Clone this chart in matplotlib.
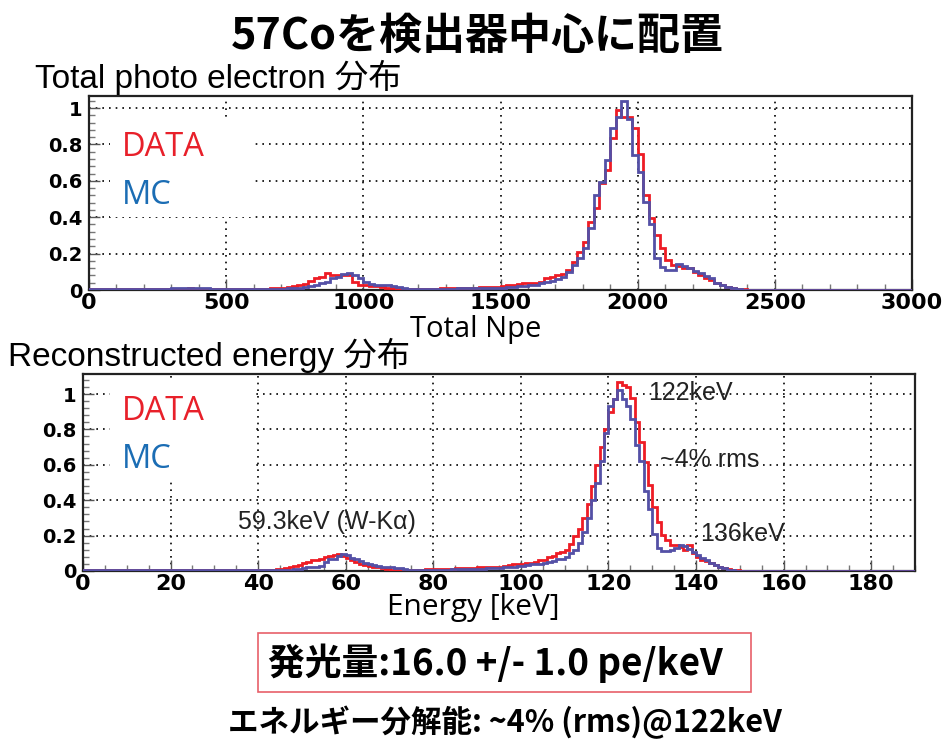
import matplotlib
matplotlib.use("Agg")
import matplotlib.pyplot as plt
import numpy as np
from matplotlib import font_manager
from matplotlib.patches import Rectangle
from matplotlib.ticker import MultipleLocator

# ---------------- data ----------------
npe_bin_width = 20
npe_range = (0, 3000)
npe_data = [
    0.004, 0.004, 0.005, 0.004, 0.005, 0.005, 0.004, 0.005, 0.005, 0.006,
    0.006, 0.005, 0.006, 0.007, 0.008, 0.008, 0.007, 0.008, 0.009, 0.008,
    0.007, 0.006, 0.006, 0.005, 0.005, 0.005, 0.004, 0.005, 0.005, 0.006,
    0.006, 0.007, 0.008, 0.009, 0.010, 0.012, 0.015, 0.020, 0.027, 0.035,
    0.050, 0.066, 0.070, 0.093, 0.085, 0.083, 0.083, 0.080, 0.045, 0.030,
    0.027, 0.022, 0.020, 0.015, 0.012, 0.010, 0.008, 0.007, 0.006, 0.006,
    0.006, 0.007, 0.008, 0.008, 0.009, 0.010, 0.010, 0.012, 0.012, 0.013,
    0.013, 0.015, 0.015, 0.016, 0.018, 0.020, 0.025, 0.030, 0.035, 0.037,
    0.037, 0.040, 0.045, 0.064, 0.073, 0.082, 0.090, 0.110, 0.155, 0.210,
    0.265, 0.375, 0.450, 0.587, 0.660, 0.835, 0.990, 0.950, 0.950, 0.890,
    0.750, 0.520, 0.395, 0.300, 0.230, 0.165, 0.137, 0.130, 0.120, 0.120,
    0.100, 0.085, 0.065, 0.055, 0.040, 0.027, 0.015, 0.010, 0.005, 0.003,
    0, 0, 0, 0, 0, 0, 0, 0, 0, 0,
    0, 0, 0, 0, 0, 0, 0, 0, 0, 0,
    0, 0, 0, 0, 0, 0, 0, 0, 0, 0,
]
npe_mc = [
    0.003, 0.003, 0.004, 0.004, 0.004, 0.005, 0.005, 0.004, 0.005, 0.005,
    0.005, 0.006, 0.006, 0.007, 0.008, 0.009, 0.010, 0.010, 0.011, 0.010,
    0.010, 0.009, 0.008, 0.006, 0.005, 0.005, 0.004, 0.004, 0.005, 0.005,
    0.005, 0.005, 0.006, 0.006, 0.007, 0.008, 0.010, 0.010, 0.012, 0.016,
    0.020, 0.030, 0.040, 0.045, 0.066, 0.070, 0.088, 0.093, 0.080, 0.066,
    0.044, 0.035, 0.030, 0.030, 0.025, 0.020, 0.015, 0.010, 0.008, 0.006,
    0.005, 0.005, 0.006, 0.006, 0.007, 0.007, 0.008, 0.009, 0.009, 0.010,
    0.010, 0.011, 0.012, 0.012, 0.013, 0.013, 0.015, 0.017, 0.020, 0.022,
    0.025, 0.030, 0.037, 0.045, 0.050, 0.060, 0.073, 0.100, 0.137, 0.175,
    0.230, 0.340, 0.520, 0.595, 0.714, 0.890, 0.950, 1.040, 0.940, 0.740,
    0.650, 0.485, 0.360, 0.175, 0.128, 0.110, 0.110, 0.145, 0.130, 0.120,
    0.105, 0.092, 0.075, 0.064, 0.040, 0.027, 0.015, 0.010, 0.005, 0.002,
    0, 0, 0, 0, 0, 0, 0, 0, 0, 0,
    0, 0, 0, 0, 0, 0, 0, 0, 0, 0,
    0, 0, 0, 0, 0, 0, 0, 0, 0, 0,
]

e_bin_width = 1
e_range = (0, 190)
e_data = [
    0.004, 0.004, 0.005, 0.004, 0.004, 0.005, 0.004, 0.004, 0.005, 0.004,
    0.004, 0.005, 0.004, 0.005, 0.005, 0.004, 0.005, 0.005, 0.004, 0.005,
    0.006, 0.007, 0.008, 0.006, 0.005, 0.005, 0.004, 0.005, 0.005, 0.004,
    0.005, 0.004, 0.005, 0.004, 0.005, 0.004, 0.005, 0.004, 0.004, 0.005,
    0.005, 0.006, 0.006, 0.008, 0.010, 0.012, 0.015, 0.020, 0.030, 0.036,
    0.045, 0.050, 0.060, 0.062, 0.065, 0.080, 0.085, 0.090, 0.098, 0.085,
    0.075, 0.060, 0.050, 0.040, 0.035, 0.028, 0.025, 0.020, 0.015, 0.012,
    0.008, 0.006, 0.006, 0.007, 0.006, 0.007, 0.008, 0.008, 0.009, 0.010,
    0.010, 0.011, 0.012, 0.013, 0.014, 0.015, 0.016, 0.017, 0.018, 0.019,
    0.020, 0.020, 0.022, 0.022, 0.025, 0.025, 0.030, 0.035, 0.037, 0.037,
    0.040, 0.045, 0.046, 0.050, 0.060, 0.062, 0.080, 0.085, 0.100, 0.110,
    0.116, 0.155, 0.200, 0.240, 0.300, 0.380, 0.480, 0.600, 0.700, 0.800,
    0.900, 0.970, 1.066, 1.050, 1.040, 0.976, 0.844, 0.730, 0.618, 0.486,
    0.363, 0.279, 0.203, 0.175, 0.147, 0.147, 0.137, 0.119, 0.147, 0.100,
    0.081, 0.062, 0.055, 0.043, 0.035, 0.025, 0.018, 0.010, 0.006, 0.003,
    0, 0, 0, 0, 0, 0, 0, 0, 0, 0,
    0, 0, 0, 0, 0, 0, 0, 0, 0, 0,
    0, 0, 0, 0, 0, 0, 0, 0, 0, 0,
    0, 0, 0, 0, 0, 0, 0, 0, 0, 0,
]
e_mc = [
    0.003, 0.003, 0.004, 0.003, 0.004, 0.004, 0.003, 0.004, 0.004, 0.004,
    0.004, 0.004, 0.004, 0.005, 0.004, 0.005, 0.005, 0.004, 0.005, 0.005,
    0.005, 0.006, 0.006, 0.006, 0.007, 0.006, 0.006, 0.005, 0.005, 0.005,
    0.005, 0.005, 0.004, 0.004, 0.004, 0.004, 0.004, 0.004, 0.004, 0.004,
    0.004, 0.005, 0.005, 0.006, 0.006, 0.006, 0.007, 0.008, 0.010, 0.011,
    0.015, 0.020, 0.020, 0.022, 0.030, 0.050, 0.068, 0.070, 0.085, 0.096,
    0.090, 0.075, 0.068, 0.056, 0.045, 0.040, 0.035, 0.028, 0.025, 0.024,
    0.020, 0.018, 0.015, 0.010, 0.008, 0.007, 0.006, 0.006, 0.006, 0.007,
    0.007, 0.007, 0.008, 0.008, 0.009, 0.009, 0.010, 0.010, 0.011, 0.011,
    0.012, 0.013, 0.015, 0.015, 0.017, 0.018, 0.020, 0.022, 0.025, 0.027,
    0.030, 0.033, 0.037, 0.037, 0.040, 0.045, 0.050, 0.055, 0.065, 0.070,
    0.080, 0.100, 0.120, 0.160, 0.220, 0.300, 0.400, 0.500, 0.620, 0.780,
    0.930, 0.970, 1.020, 0.970, 0.930, 0.860, 0.710, 0.620, 0.450, 0.350,
    0.210, 0.130, 0.115, 0.115, 0.120, 0.130, 0.147, 0.140, 0.125, 0.110,
    0.090, 0.075, 0.060, 0.043, 0.035, 0.025, 0.015, 0.008, 0.004, 0.002,
    0, 0, 0, 0, 0, 0, 0, 0, 0, 0,
    0, 0, 0, 0, 0, 0, 0, 0, 0, 0,
    0, 0, 0, 0, 0, 0, 0, 0, 0, 0,
    0, 0, 0, 0, 0, 0, 0, 0, 0, 0,
]

legend_labels = ["DATA", "MC"]
peak_labels = ["59.3keV (W-K\u03b1)", "122keV", "~4% rms", "136keV"]

# ---------------- style ----------------
names = {f.name for f in font_manager.fontManager.ttflist}
narrow = "Liberation Sans Narrow" if "Liberation Sans Narrow" in names else "Liberation Sans"
CJK = "Noto Sans CJK JP"
plt.rcParams["font.family"] = ["Liberation Sans", CJK]

RED = "#ee1c25"
BLUE = "#5450a6"
LEG_RED = "#e8202a"
LEG_BLUE = "#1b6db4"

W, H = 943, 740
fig = plt.figure(figsize=(W / 100, H / 100), dpi=100)
fig.patch.set_facecolor("white")


def fx(px):
    return px / W


def fy(py):
    return 1 - py / H


def make_axes(l, r, t, b):
    return fig.add_axes([fx(l), fy(b), fx(r) - fx(l), fy(t) - fy(b)])


def style_axes(ax, xmaj, xmin, xlim, ylim):
    ax.set_xlim(*xlim)
    ax.set_ylim(*ylim)
    ax.xaxis.set_major_locator(MultipleLocator(xmaj))
    ax.xaxis.set_minor_locator(MultipleLocator(xmin))
    ax.yaxis.set_major_locator(MultipleLocator(0.2))
    ax.yaxis.set_minor_locator(MultipleLocator(0.04))
    ax.tick_params(axis="both", which="major", direction="in", length=8,
                   width=1.0, color="#555555", top=False, right=False)
    ax.tick_params(axis="both", which="minor", direction="in", length=4,
                   width=1.0, color="#777777", top=False, right=False)
    ax.tick_params(axis="x", which="major", labelsize=16, pad=2)
    ax.tick_params(axis="y", which="major", labelsize=14, pad=5)
    ax.grid(True, which="major", color="black", linestyle=(0, (1, 3)), linewidth=1.2)
    for s in ax.spines.values():
        s.set_linewidth(1.6)
        s.set_color("#222222")
    ax.yaxis.set_major_formatter(matplotlib.ticker.FuncFormatter(
        lambda v, p: "0" if abs(v) < 1e-9 else ("1" if abs(v - 1) < 1e-9 else f"{v:.1f}")))
    for lab in ax.get_xticklabels() + ax.get_yticklabels():
        lab.set_fontweight("bold")
        lab.set_family("DejaVu Sans")


# ---------- top axes ----------
ax1 = make_axes(89, 912, 96, 290)
edges1 = np.arange(npe_range[0], npe_range[1] + npe_bin_width, npe_bin_width)
ax1.stairs(npe_data, edges1, color=RED, linewidth=2.0, zorder=4)
ax1.stairs(npe_mc, edges1, color=BLUE, linewidth=2.0, zorder=5)
style_axes(ax1, 500, 100, npe_range, (0, 1.066))
ax1.add_patch(Rectangle((fx(110), fy(217)), fx(255) - fx(110), fy(117) - fy(217),
                        transform=fig.transFigure, facecolor="white",
                        edgecolor="none", zorder=3))

# ---------- bottom axes ----------
ax2 = make_axes(83, 915, 374, 571)
edges2 = np.arange(e_range[0], e_range[1] + e_bin_width, e_bin_width)
ax2.stairs(e_data, edges2, color=RED, linewidth=2.0, zorder=4)
ax2.stairs(e_mc, edges2, color=BLUE, linewidth=2.0, zorder=5)
style_axes(ax2, 20, 5, e_range, (0, 1.113))
ax2.add_patch(Rectangle((fx(110), fy(481)), fx(255) - fx(110), fy(381) - fy(481),
                        transform=fig.transFigure, facecolor="white",
                        edgecolor="none", zorder=3))

# legends (text)
leg_font = ["Open Sans", CJK]
for (px, py), lab, col in [((122, 148), legend_labels[0], LEG_RED),
                           ((122, 195), legend_labels[1], LEG_BLUE),
                           ((122, 412), legend_labels[0], LEG_RED),
                           ((122, 460), legend_labels[1], LEG_BLUE)]:
    fig.text(fx(px), fy(py), lab, color=col, fontsize=23.5,
             family=leg_font, va="center", ha="left")

# peak annotations (figure pixel positions)
ann_px = [(238, 522), (648, 393), (660, 460), (700, 534)]
for lab, (px, py) in zip(peak_labels, ann_px):
    fig.text(fx(px), fy(py), lab, fontsize=18, color="#222222",
             family=["Liberation Sans", "DejaVu Sans"], va="center", ha="left")

# titles
fig.text(fx(477), fy(36), "57Coを検出器中心に配置", fontsize=31, fontweight="bold",
         family=[CJK], ha="center", va="center")
fig.text(fx(35), fy(77), "Total photo electron 分布", fontsize=24,
         family=[narrow, CJK], ha="left", va="center")
fig.text(fx(476), fy(330), "Total Npe", fontsize=21,
         family=["Open Sans", CJK], ha="center", va="center")
fig.text(fx(8), fy(355), "Reconstructed energy 分布", fontsize=24,
         family=["Liberation Sans", CJK], ha="left", va="center")
fig.text(fx(473), fy(607), "Energy [keV]", fontsize=21.5,
         family=["Open Sans", CJK], ha="center", va="center")

# boxed result
fig.patches.append(Rectangle((fx(258), fy(692)), fx(751) - fx(258), fy(633) - fy(692),
                             transform=fig.transFigure, facecolor="white",
                             edgecolor="#e8606a", linewidth=1.2))
fig.text(fx(495), fy(663), "発光量:16.0 +/- 1.0 pe/keV", fontsize=26.5, fontweight="bold",
         family=[CJK], ha="center", va="center")
fig.text(fx(505), fy(722), "エネルギー分解能: ~4% (rms)@122keV", fontsize=22,
         fontweight="bold", family=[CJK], ha="center", va="center")

fig.savefig("out.png", dpi=100)
